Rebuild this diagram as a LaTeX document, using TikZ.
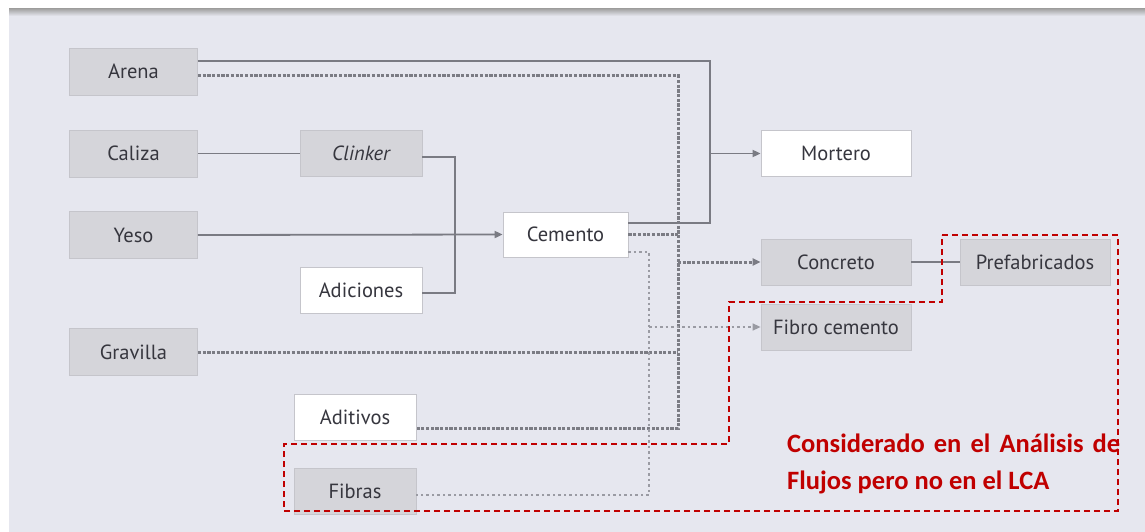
\documentclass[tikz,border=0pt]{standalone}
\usepackage{fontspec}
\setmainfont{PT Sans}
\newfontfamily\notefont{Carlito}
\usetikzlibrary{arrows.meta}

\definecolor{panel}{HTML}{E6E7EF}
\definecolor{greybox}{HTML}{D5D5DA}
\definecolor{boxedge}{HTML}{C5C5CB}
\definecolor{labeltext}{HTML}{36363E}
\definecolor{flowsolid}{HTML}{7A7B83}
\definecolor{flowdot}{HTML}{7B7C84}
\definecolor{flowthin}{HTML}{9A9BA3}
\definecolor{notered}{HTML}{C00000}

\tikzset{
  basebox/.style={draw=boxedge, line width=0.8pt, text=labeltext,
    font=\fontsize{20.5}{24}\selectfont, inner sep=0pt, anchor=center},
  greycell/.style={basebox, fill=greybox},
  whitecell/.style={basebox, fill=white},
  wideleft/.style={minimum width=128pt, minimum height=47pt},
  midcell/.style={minimum width=122pt, minimum height=46pt},
  rightcell/.style={minimum width=150pt, minimum height=46pt},
  solidflow/.style={draw=flowsolid, line width=1.8pt},
  dotflow/.style={draw=flowdot, line width=3pt, dash pattern=on 3.2pt off 1.5pt},
  thinflow/.style={draw=flowthin, line width=1.4pt, dash pattern=on 2.5pt off 3pt},
  tip/.style={-{Triangle[length=8pt,width=7pt]}},
  scopebox/.style={draw=notered, line width=1.8pt, dash pattern=on 6pt off 4pt},
  notetext/.style={anchor=base west, inner sep=0pt, text=notered,
    font=\notefont\bfseries\fontsize{26.5}{30}\selectfont},
}

\begin{document}
\begin{tikzpicture}[x=1pt, y=-1pt]
  % page and panel
  \useasboundingbox (0,0) rectangle (1145,532);
  \fill[white] (0,0) rectangle (1145,532);
  \fill[panel] (9,10) rectangle (1145,532);
  \shade[top color=black!35, bottom color=panel] (9,9) rectangle (1145,16);

  % raw materials
  \node[greycell, wideleft] (arena)    at (133.5, 71.5) {Arena};
  \node[greycell, wideleft] (caliza)   at (133.5,153.5) {Caliza};
  \node[greycell, wideleft] (yeso)     at (133.5,235)   {Yeso};
  \node[greycell, wideleft] (gravilla) at (133.5,352)   {Gravilla};

  % intermediate components
  \node[greycell,  midcell] (clinker)   at (361,153.5) {\itshape Clinker};
  \node[whitecell, midcell] (adiciones) at (361,290)   {Adiciones};
  \node[whitecell, minimum width=125pt, minimum height=45pt] (cemento) at (565.5,234.5) {Cemento};
  \node[whitecell, midcell] (aditivos)  at (355,417)   {Aditivos};
  \node[greycell,  midcell] (fibras)    at (355,491)   {Fibras};

  % products
  \node[whitecell, rightcell] (mortero) at (836,153.5) {Mortero};
  \node[greycell,  rightcell] (concreto) at (836,262)  {Concreto};
  \node[greycell,  rightcell] (prefab)  at (1035,262)  {Prefabricados};
  \node[greycell,  rightcell] (fibro)   at (836,327)   {Fibro cemento};

  % junction points of the collector lines
  \coordinate (sTop) at (710,61);
  \coordinate (sMid) at (710,153.5);
  \coordinate (sBot) at (710,223);
  \coordinate (dTop) at (678,76);
  \coordinate (dBot) at (678,428);
  \coordinate (tTop) at (649,252);
  \coordinate (tBot) at (649,495);
  \coordinate (cTop) at (455,157);
  \coordinate (cBot) at (455,293);

  % clinker and cement
  \draw[solidflow] (caliza) -- (clinker);
  \draw[solidflow] (clinker.east |- cTop) -- (cTop) -- (cBot) -- (adiciones.east |- cBot);
  \draw[solidflow, tip] (yeso.east) -- (cemento.west);

  % mortar
  \draw[solidflow] (arena.east |- sTop) -- (sTop) -- (sBot) -- (cemento.east |- sBot);
  \draw[solidflow, tip] (sMid) -- (mortero.west);

  % concrete
  \draw[dotflow] (arena.east |- dTop) -- (dTop) -- (dBot) -- (aditivos.east |- dBot);
  \draw[dotflow] (cemento.east) -- (cemento.east -| dTop);
  \draw[dotflow] (gravilla.east) -- (gravilla.east -| dTop);
  \draw[dotflow, tip] (dTop |- concreto.west) -- (concreto.west);
  \draw[solidflow] (concreto) -- (prefab);

  % fibre cement
  \draw[thinflow] (cemento.east |- tTop) -- (tTop) -- (tBot) -- (fibras.east |- tBot);
  \draw[thinflow, tip] (tTop |- fibro.west) -- (fibro.west);

  % scope outline and its note
  \draw[scopebox] (942,235) -- (1118,235) -- (1118,511) -- (284,511)
    -- (284,444) -- (729,444) -- (729,302) -- (942,302) -- cycle;
  \node[notetext] (note1) at (787,452)
    {\hbox to 333pt{Considerado\hfill en\hfill el\hfill Análisis\hfill de}};
  \node[notetext] (note2) at (787,489) {Flujos pero no en el LCA};
\end{tikzpicture}
\end{document}
